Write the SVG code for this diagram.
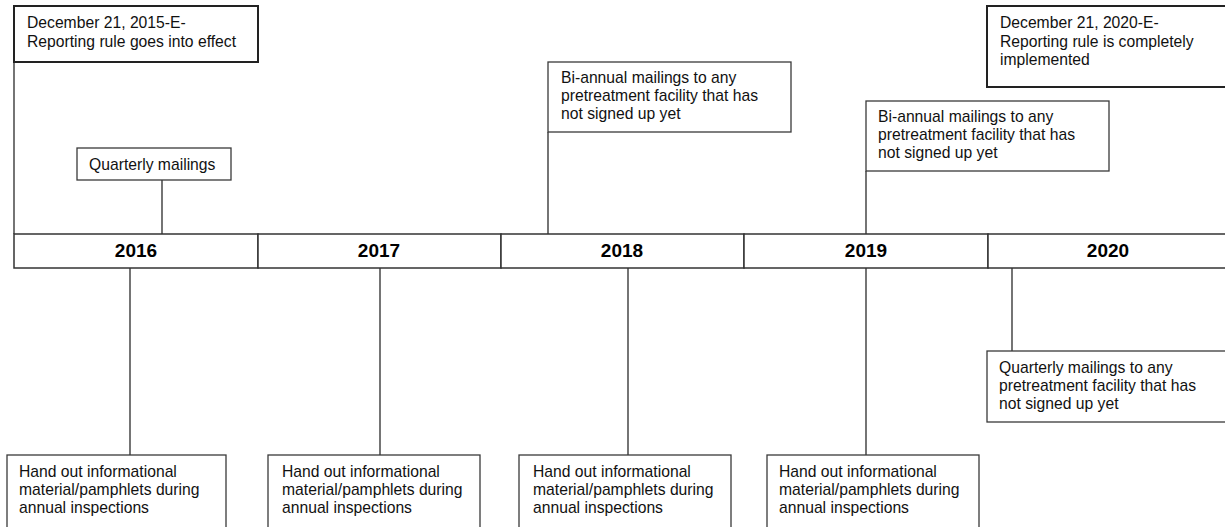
<svg xmlns="http://www.w3.org/2000/svg" width="1225" height="527" viewBox="0 0 1225 527">
<style>
.bg{fill:#ffffff}
.box{fill:#ffffff;stroke:#3a3a3a;stroke-width:1.3}
.dbox{fill:#ffffff;stroke:#222;stroke-width:2}
.seg{fill:#ffffff;stroke:#333;stroke-width:1.5}
.t{font-family:"Liberation Sans",Arial,sans-serif;font-size:15.7px;fill:#111}
.y{font-family:"Liberation Sans",Arial,sans-serif;font-size:19px;font-weight:bold;fill:#000;text-anchor:middle}
.c{stroke:#3a3a3a;stroke-width:1.4;fill:none}
</style>
<rect class="bg" x="0" y="0" width="1225" height="527"/>
<g id="connectors">
<line class="c" x1="14" y1="62" x2="14" y2="234"/>
<line class="c" x1="162" y1="180" x2="162" y2="234"/>
<line class="c" x1="548" y1="132" x2="548" y2="234"/>
<line class="c" x1="866" y1="171" x2="866" y2="234"/>
<line class="c" x1="130" y1="268" x2="130" y2="455"/>
<line class="c" x1="380" y1="268" x2="380" y2="455"/>
<line class="c" x1="628" y1="268" x2="628" y2="455"/>
<line class="c" x1="866" y1="268" x2="866" y2="455"/>
<line class="c" x1="1012" y1="268" x2="1012" y2="351"/>
</g>
<g id="timeline">
<rect class="seg" x="14" y="234" width="244" height="34"/>
<rect class="seg" x="258" y="234" width="243" height="34"/>
<rect class="seg" x="501" y="234" width="243" height="34"/>
<rect class="seg" x="744" y="234" width="244" height="34"/>
<rect class="seg" x="988" y="234" width="250" height="34"/>
<text class="y" x="136" y="257">2016</text>
<text class="y" x="379" y="257">2017</text>
<text class="y" x="622" y="257">2018</text>
<text class="y" x="866" y="257">2019</text>
<text class="y" x="1108" y="257">2020</text>
</g>
<g id="start">
<rect class="dbox" x="14" y="6" width="244" height="56"/>
<text class="t" x="27" y="28">December 21, 2015-E-</text>
<text class="t" x="27" y="47">Reporting rule goes into effect</text>
</g>
<g id="end">
<rect class="dbox" x="987" y="6" width="240" height="81"/>
<text class="t" x="1000" y="28">December 21, 2020-E-</text>
<text class="t" x="1000" y="47">Reporting rule is completely</text>
<text class="t" x="1000" y="65">implemented</text>
</g>
<g id="quarterly">
<rect class="box" x="77" y="148" width="154" height="32"/>
<text class="t" x="89" y="170">Quarterly mailings</text>
</g>
<g id="biannual2018">
<rect class="box" x="548" y="62" width="243" height="70"/>
<text class="t" x="561" y="83">Bi-annual mailings to any</text>
<text class="t" x="561" y="101">pretreatment facility that has</text>
<text class="t" x="561" y="119">not signed up yet</text>
</g>
<g id="biannual2019">
<rect class="box" x="866" y="101" width="243" height="70"/>
<text class="t" x="878" y="122">Bi-annual mailings to any</text>
<text class="t" x="878" y="140">pretreatment facility that has</text>
<text class="t" x="878" y="158">not signed up yet</text>
</g>
<g id="quarterly2020">
<rect class="box" x="987" y="351" width="240" height="71"/>
<text class="t" x="999" y="373">Quarterly mailings to any</text>
<text class="t" x="999" y="391">pretreatment facility that has</text>
<text class="t" x="999" y="409">not signed up yet</text>
</g>
<g id="handout2016">
<rect class="box" x="7" y="455" width="219" height="80"/>
<text class="t" x="19" y="477">Hand out informational</text>
<text class="t" x="19" y="495">material/pamphlets during</text>
<text class="t" x="19" y="513">annual inspections</text>
</g>
<g id="handout2017">
<rect class="box" x="268" y="455" width="212" height="80"/>
<text class="t" x="282" y="477">Hand out informational</text>
<text class="t" x="282" y="495">material/pamphlets during</text>
<text class="t" x="282" y="513">annual inspections</text>
</g>
<g id="handout2018">
<rect class="box" x="519" y="455" width="212" height="80"/>
<text class="t" x="533" y="477">Hand out informational</text>
<text class="t" x="533" y="495">material/pamphlets during</text>
<text class="t" x="533" y="513">annual inspections</text>
</g>
<g id="handout2019">
<rect class="box" x="767" y="455" width="212" height="80"/>
<text class="t" x="779" y="477">Hand out informational</text>
<text class="t" x="779" y="495">material/pamphlets during</text>
<text class="t" x="779" y="513">annual inspections</text>
</g>
</svg>
